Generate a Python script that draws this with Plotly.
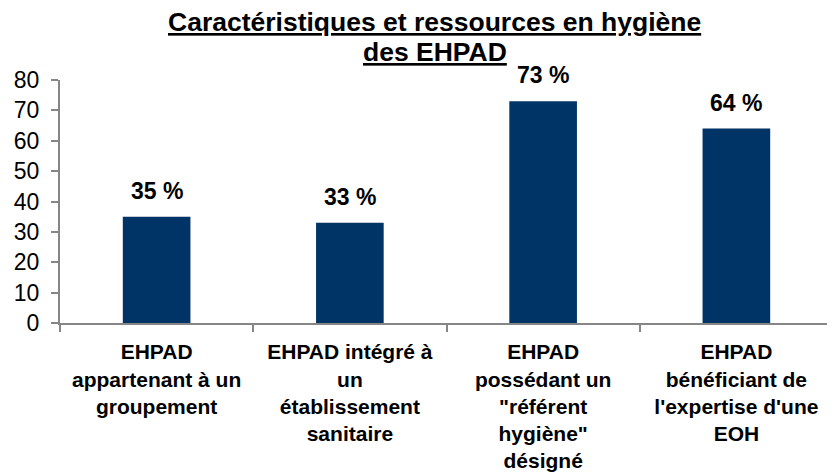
import plotly.graph_objects as go

categories = [
    "EHPAD<br>appartenant à un<br>groupement",
    "EHPAD intégré à<br>un<br>établissement<br>sanitaire",
    "EHPAD<br>possédant un<br>\"référent<br>hygiène\"<br>désigné",
    "EHPAD<br>bénéficiant de<br>l'expertise d'une<br>EOH",
]
values = [35, 33, 73, 64]
title_lines = ["Caractéristiques et ressources en hygiène", "des EHPAD"]

FONT = "Liberation Sans, Arial"

fig = go.Figure()

fig.add_trace(go.Bar(
    x=categories,
    y=values,
    width=0.35,
    marker=dict(color="#003366", line=dict(width=0)),
))

# value labels above the bars
for c, v in zip(categories, values):
    fig.add_annotation(
        x=c, y=v, xref="x", yref="y",
        text=f"<b>{v} %</b>",
        showarrow=False,
        yanchor="bottom",
        yshift=11,
        font=dict(family=FONT, size=23, color="black"),
    )

# title, two underlined lines
for line, ypos in zip(title_lines, [1.2387, 1.1152]):
    fig.add_annotation(
        x=0.485, y=ypos, xref="paper", yref="paper",
        xanchor="center", yanchor="middle",
        text=f"<b><u>{line}</u></b>",
        showarrow=False,
        font=dict(family=FONT, size=26.5, color="black"),
    )

# the page has an 8px body margin, so the figure is sized/shifted to fit
fig.update_layout(
    width=827,
    height=464,
    margin=dict(l=52, r=2, t=72, b=149),
    plot_bgcolor="white",
    paper_bgcolor="white",
    showlegend=False,
    font=dict(family=FONT, color="black"),
)

fig.update_xaxes(
    automargin=False,
    showline=True,
    linecolor="#868686",
    linewidth=2,
    ticks="outside",
    tickson="boundaries",
    ticklen=7,
    tickcolor="#868686",
    tickwidth=2,
    tickfont=dict(size=21, color="black", weight="bold"),
    ticklabelstandoff=9,
    tickangle=0,
)

fig.update_yaxes(
    automargin=False,
    range=[0, 80],
    dtick=10,
    showline=True,
    linecolor="#868686",
    linewidth=2,
    ticks="outside",
    ticklen=7,
    tickcolor="#868686",
    tickwidth=2,
    showgrid=False,
    zeroline=False,
    tickfont=dict(size=23, color="black"),
    ticklabelstandoff=7,
)

fig.write_html("out.html")
